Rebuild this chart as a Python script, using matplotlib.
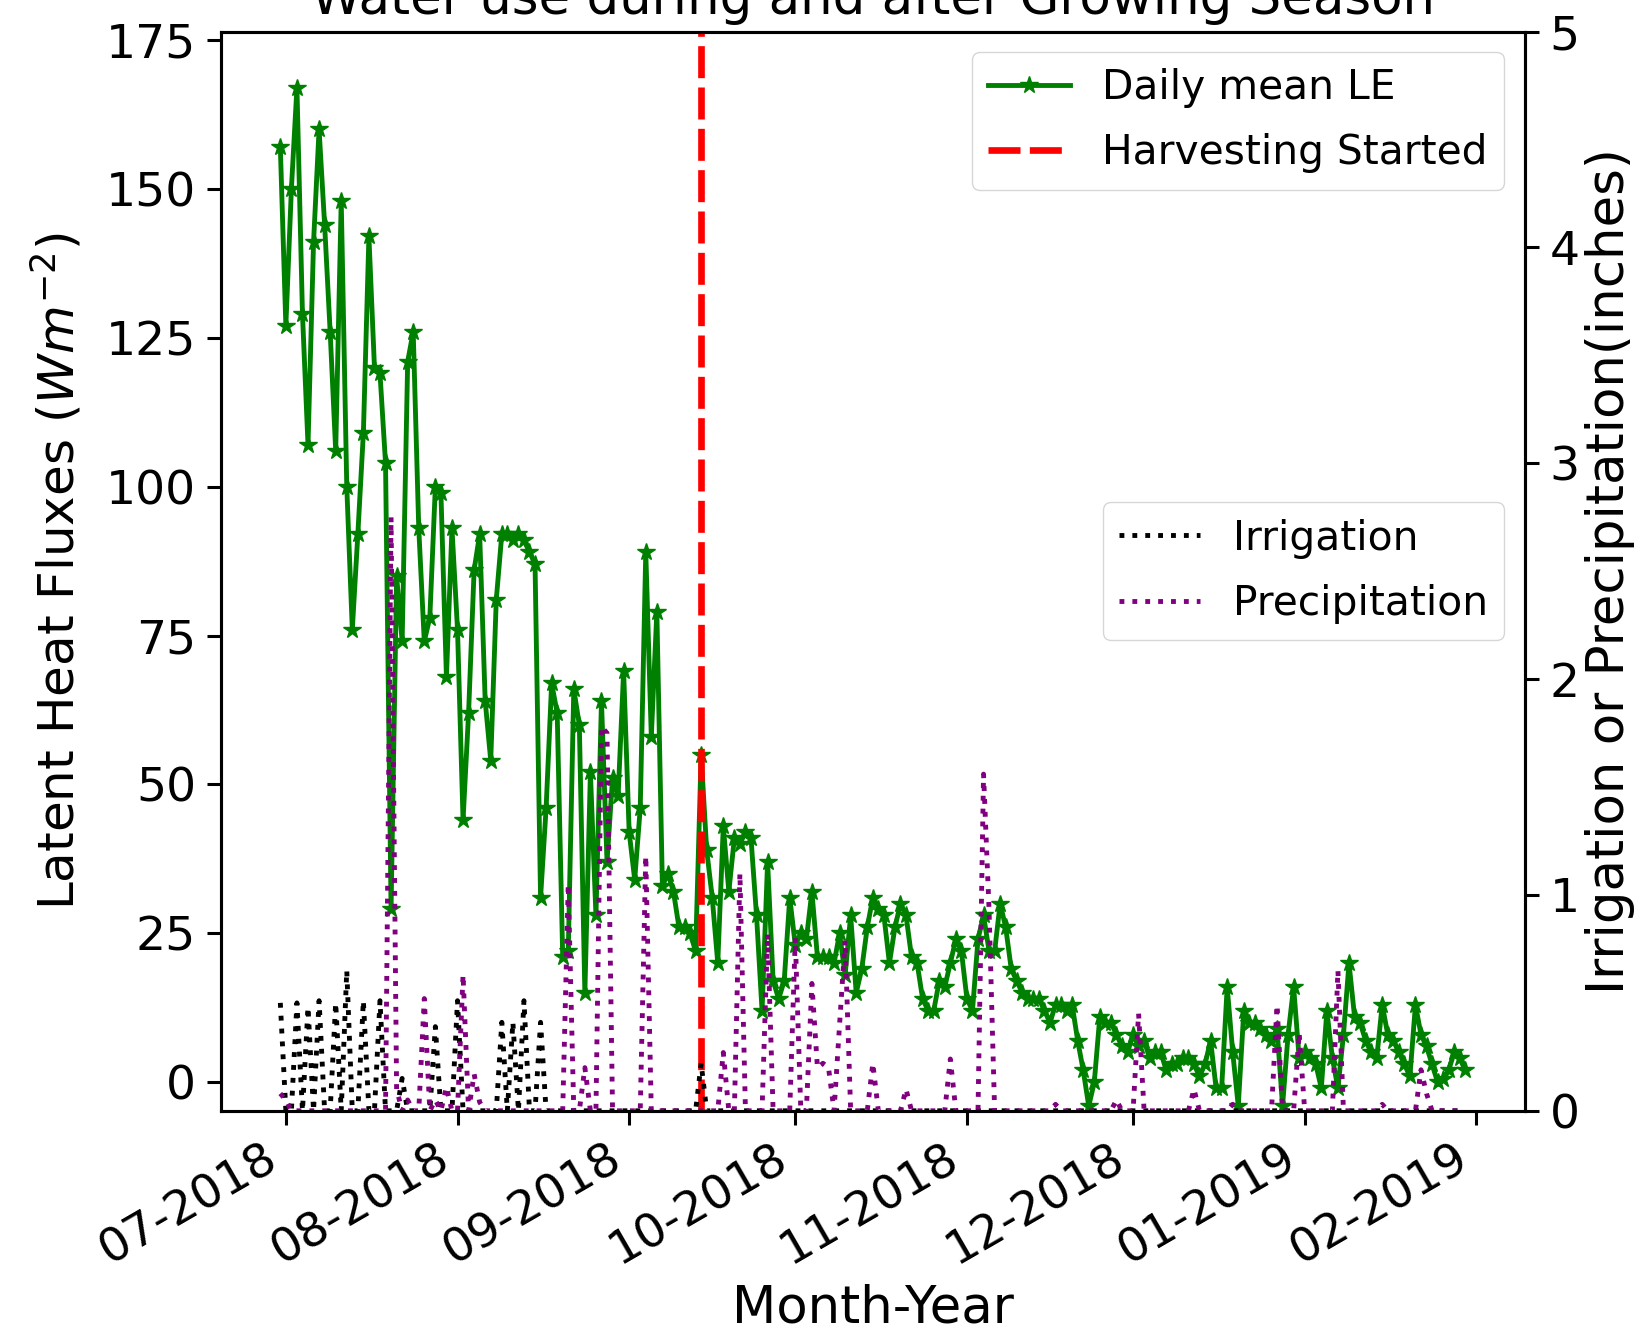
import pandas as pd
import matplotlib
matplotlib.use("Agg")
import matplotlib.pyplot as plt
import matplotlib.dates as mdates

# daily values, 2018-06-30 .. 2019-01-30
start_date = "2018-06-30"
harvest_date = "2018-09-14"

le = [157, 127, 150, 167, 129, 107, 141, 160, 144, 126,
      106, 148, 100, 76, 92, 109, 142, 120, 119, 104,
      29, 85, 74, 121, 126, 93, 74, 78, 100, 99,
      68, 93, 76, 44, 62, 86, 92, 64, 54, 81,
      92, 92, 91, 92, 91, 89, 87, 31, 46, 67,
      62, 21, 22, 66, 60, 15, 52, 28, 64, 37,
      51, 48, 69, 42, 34, 46, 89, 58, 79, 33,
      35, 32, 26, 26, 25, 22, 55, 39, 31, 20,
      43, 32, 41, 40, 42, 41, 28, 12, 37, 17,
      14, 17, 31, 23, 25, 24, 32, 21, 21, 21,
      20, 25, 18, 28, 15, 19, 26, 31, 29, 28,
      20, 26, 30, 28, 21, 20, 14, 12, 12, 17,
      16, 20, 24, 22, 14, 12, 24, 28, 22, 22,
      30, 26, 19, 17, 15, 14, 14, 14, 12, 10,
      13, 13, 12, 13, 7, 2, -4, 0, 11, 10,
      10, 8, 6, 5, 8, 6, 7, 4, 5, 5,
      2, 3, 3, 4, 4, 3, 1, 3, 7, -1,
      -1, 16, 5, -4, 12, 10, 10, 9, 8, 7,
      9, -4, 8, 16, 4, 5, 4, 3, -1, 12,
      4, -1, 8, 20, 11, 10, 7, 5, 4, 13,
      8, 7, 5, 3, 1, 13, 8, 6, 3, 0,
      0.5, 2, 5, 4, 2]

# irrigation events (inches), zero on other days
irr_day = [0, 3, 5, 7, 10, 12, 15, 18, 22, 28, 32, 40, 42, 44, 47, 76]
irr_in = [0.50, 0.50, 0.48, 0.51, 0.50, 0.65, 0.51, 0.51, 0.15, 0.39,
          0.51, 0.41, 0.41, 0.51, 0.41, 0.22]

# precipitation events (inches), zero on other days
pr_day = [0, 1, 20, 21, 23, 26, 28, 30, 33, 35, 36, 52, 55, 58, 59, 66,
          80, 83, 88, 93, 96, 97, 98, 99, 101, 102, 107, 113, 121, 127, 128,
          140, 151, 155, 165, 172, 180, 184, 191, 199, 206, 207]
pr_in = [0.08, 0.05, 2.75, 0.10, 0.05, 0.52, 0.05, 0.11, 0.63, 0.17, 0.04,
         1.05, 0.20, 1.78, 1.75, 1.18, 0.27, 1.10, 0.82, 0.80, 0.59, 0.20,
         0.22, 0.20, 0.40, 0.79, 0.22, 0.10, 0.24, 1.56, 0.93, 0.03, 0.05,
         0.45, 0.10, 0.03, 0.49, 0.36, 0.65, 0.03, 0.19, 0.08]

dates = pd.date_range(start_date, periods=len(le), freq="D")
irrigation = [0.0] * len(le)
for d, v in zip(irr_day, irr_in):
    irrigation[d] = v
precipitation = [0.0] * len(le)
for d, v in zip(pr_day, pr_in):
    precipitation[d] = v

fig = plt.figure(figsize=(16.51, 13.33), dpi=100)
ax = fig.add_axes([0.1339, 0.1667, 0.7895, 0.8096])
ax2 = ax.twinx()

ax.plot(dates, le, color="green", marker="*", lw=3.5, ms=13,
        label="Daily mean LE")
ax.axvline(pd.Timestamp(harvest_date), color="red", ls=(0, (4.8, 1.4)),
           lw=4.8, label="Harvesting Started")
ax2.plot(dates, irrigation, color="black", ls=":", lw=3.5, label="Irrigation")
ax2.plot(dates, precipitation, color="purple", ls=":", lw=3.5,
         label="Precipitation")

ax.set_ylim(-4.8, 176.4)
ax.set_yticks([0, 25, 50, 75, 100, 125, 150, 175])
ax2.set_ylim(0, 5)
ax2.set_yticks([0, 1, 2, 3, 4, 5])

ax.xaxis.set_major_locator(mdates.MonthLocator())
ax.xaxis.set_major_formatter(mdates.DateFormatter("%m-%Y"))

for a in (ax, ax2):
    a.tick_params(labelsize=34, length=10, width=2.2, pad=8)
    for s in a.spines.values():
        s.set_linewidth(2.2)
for lab in ax.get_xticklabels():
    lab.set_rotation(30)
    lab.set_ha("right")

ax.set_title("Water use during and after Growing Season", fontsize=37, pad=13)
ax.set_xlabel("Month-Year", fontsize=37, labelpad=7)
ax.set_ylabel("Latent Heat Fluxes ($Wm^{-2}$)", fontsize=36, labelpad=15)
ax2.set_ylabel("Irrigation or Precipitation(inches)", fontsize=37)

ax.legend(loc="upper right", fontsize=29.3, labelspacing=0.62)
ax2.legend(loc="center right", fontsize=29.3, labelspacing=0.62)

fig.savefig("out.png", dpi=100)
